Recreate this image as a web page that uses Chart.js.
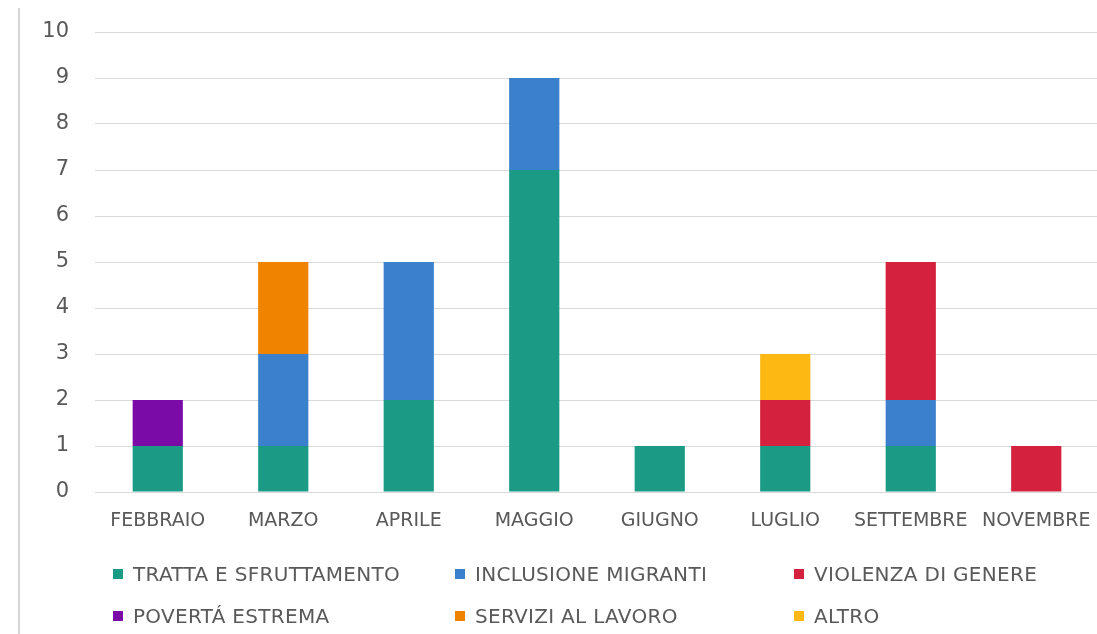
<!DOCTYPE html>
<html>
<head>
<meta charset="utf-8">
<script src="https://cdn.jsdelivr.net/npm/chart.js@4"></script>
<style>
    html, body { margin: 0; padding: 0; background: #fff; overflow: hidden; }
    body { width: 1097px; height: 634px; position: relative; font-family: 'DejaVu Sans', sans-serif; }
    #frame { position: absolute; left: 18px; top: 8px; width: 2px; height: 626px; background: #d6d6d6; }
    #wrap { position: absolute; left: 0; top: 0; width: 1099px; height: 634px; }
    #wrap canvas { display: block; }
    #legend { position: absolute; left: 0; top: 0; width: 1097px; height: 634px; pointer-events: none; }
    .item { position: absolute; display: flex; align-items: center; height: 24px; color: #595959; font-size: 20px; letter-spacing: 0.3px; white-space: nowrap; }
    .item span.box { width: 10px; height: 10px; margin-right: 10px; display: inline-block; flex: none; }
</style>
</head>
<body>
<div id="frame"></div>
<div id="wrap"><canvas id="chart" width="1099" height="634"></canvas></div>
<div id="legend"></div>
<script>
// months on the x axis
const months = ['FEBBRAIO', 'MARZO', 'APRILE', 'MAGGIO', 'GIUGNO', 'LUGLIO', 'SETTEMBRE', 'NOVEMBRE'];

// one array per category, in stacking order
const tratta = [1, 1, 2, 7, 1, 1, 1, 0];
const inclusione = [0, 2, 3, 2, 0, 0, 1, 0];
const violenza = [0, 0, 0, 0, 0, 1, 3, 1];
const poverta = [1, 0, 0, 0, 0, 0, 0, 0];
const servizi = [0, 2, 0, 0, 0, 0, 0, 0];
const altro = [0, 0, 0, 0, 0, 1, 0, 0];

const seriesNames = ['TRATTA E SFRUTTAMENTO', 'INCLUSIONE MIGRANTI', 'VIOLENZA DI GENERE', 'POVERTÁ ESTREMA', 'SERVIZI AL LAVORO', 'ALTRO'];
const yTicks = [0, 1, 2, 3, 4, 5, 6, 7, 8, 9, 10];

const colors = ['#1b9a86', '#3a80cc', '#d4213d', '#7a0ba6', '#f08300', '#fdb813'];
const seriesData = [tratta, inclusione, violenza, poverta, servizi, altro];

const ctx = document.getElementById('chart').getContext('2d');
new Chart(ctx, {
    type: 'bar',
    data: {
        labels: months,
        datasets: seriesData.map((d, i) => ({
            label: seriesNames[i],
            data: d,
            backgroundColor: colors[i],
            borderWidth: 0,
            barPercentage: 0.4,
            categoryPercentage: 1
        }))
    },
    options: {
        responsive: false,
        animation: false,
        layout: { padding: { top: 32, left: 0, right: 0, bottom: 0 } },
        plugins: { legend: { display: false }, tooltip: { enabled: false } },
        scales: {
            x: {
                stacked: true,
                grid: { display: false, drawTicks: false },
                border: { display: false },
                ticks: { color: '#595959', font: { family: 'DejaVu Sans', size: 19 }, padding: 18, maxRotation: 0, autoSkip: false },
                afterFit: (scale) => {
                    scale.height = 142;
                    // let the last label run off the edge like the original
                    scale.paddingLeft = 0;
                    scale.paddingRight = 0;
                }
            },
            y: {
                stacked: true,
                min: 0,
                max: 10,
                afterBuildTicks: (scale) => { scale.ticks = yTicks.map(v => ({ value: v })); },
                grid: { color: '#d9d9d9', lineWidth: 1, drawTicks: false },
                border: { display: false },
                ticks: { color: '#595959', font: { family: 'DejaVu Sans', size: 21 }, padding: 26 },
                afterFit: (scale) => {
                    scale.width = 95;
                    scale.paddingTop = 0;
                    scale.paddingBottom = 0;
                }
            }
        }
    }
});

// legend laid out in three columns like the original
const legendPos = [
    [113, 574], [455, 574], [794, 574],
    [113, 616], [455, 616], [794, 616]
];
const legend = document.getElementById('legend');
seriesNames.forEach((name, i) => {
    const el = document.createElement('div');
    el.className = 'item';
    el.style.left = legendPos[i][0] + 'px';
    el.style.top = (legendPos[i][1] - 12) + 'px';
    el.innerHTML = '<span class="box" style="background:' + colors[i] + '"></span>' + name;
    legend.appendChild(el);
});
</script>
</body>
</html>
